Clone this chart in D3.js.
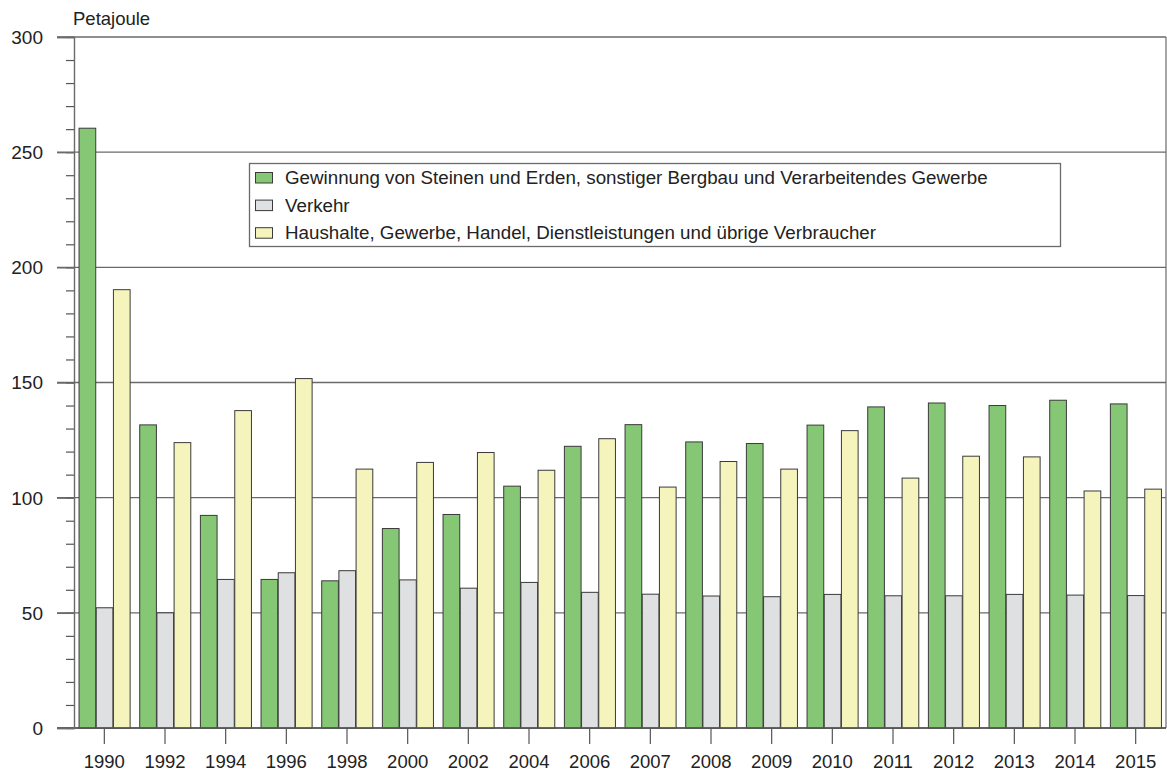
<!DOCTYPE html>
<html>
<head>
<meta charset="utf-8">
<script src="https://cdn.jsdelivr.net/npm/d3@7"></script>
<style>
  html, body { margin: 0; padding: 0; background: #fff; }
  svg { display: block; font-family: "Liberation Sans", Arial, Helvetica, sans-serif; }
</style>
</head>
<body>
<svg id="chart" width="1167" height="773"></svg>
<script>
// Endenergieverbrauch nach Sektoren, in Petajoule
const years = ["1990", "1992", "1994", "1996", "1998", "2000", "2002", "2004", "2006",
               "2007", "2008", "2009", "2010", "2011", "2012", "2013", "2014", "2015"];

const gewinnung = [260.4, 131.6, 92.3, 64.5, 63.9, 86.6, 92.7, 105.0, 122.3,
                   131.7, 124.2, 123.5, 131.5, 139.4, 141.1, 140.0, 142.3, 140.7];
const verkehr   = [52.2, 50.0, 64.5, 67.4, 68.3, 64.3, 60.7, 63.2, 58.9,
                   58.1, 57.3, 57.0, 58.0, 57.4, 57.4, 58.0, 57.7, 57.5];
const haushalte = [190.3, 123.9, 137.8, 151.7, 112.4, 115.3, 119.6, 111.9, 125.6,
                   104.6, 115.7, 112.4, 129.1, 108.5, 118.0, 117.7, 102.9, 103.7];

const seriesNames = [
  "Gewinnung von Steinen und Erden, sonstiger Bergbau und Verarbeitendes Gewerbe",
  "Verkehr",
  "Haushalte, Gewerbe, Handel, Dienstleistungen und übrige Verbraucher"
];
const seriesValues = [gewinnung, verkehr, haushalte];
const seriesColors = ["#86c775", "#dfe0e2", "#f6f4bd"];

const majorTicks = [0, 50, 100, 150, 200, 250, 300];
const minorTicks = d3.range(0, 301, 10);
const unitLabel = "Petajoule";

const svg = d3.select("#chart");
const plotLeft = 74, plotRight = 1166, plotTop = 37, plotBottom = 728;

const y = d3.scaleLinear().domain([0, 300]).range([plotBottom, plotTop]);
const x0 = d3.scaleBand().domain(years).range([plotLeft, plotRight])
  .paddingInner(0.15).paddingOuter(0.075);
const x1 = d3.scaleBand().domain(d3.range(seriesValues.length)).range([0, x0.bandwidth()]);

const axisColor = "#6a6a6a";
const textColor = "#222";

// horizontal grid lines
svg.append("g").selectAll("line").data(majorTicks).join("line")
  .attr("x1", 57).attr("x2", plotRight)
  .attr("y1", d => y(d)).attr("y2", d => y(d))
  .attr("stroke", axisColor).attr("stroke-width", 1.4);

// right frame line
svg.append("line")
  .attr("x1", plotRight).attr("x2", plotRight).attr("y1", y(300)).attr("y2", y(0))
  .attr("stroke", axisColor).attr("stroke-width", 1.2);

// bars
const rows = years.map((yr, i) => ({ yr, vals: seriesValues.map(s => s[i]) }));
const groups = svg.append("g").selectAll("g").data(rows).join("g")
  .attr("transform", d => `translate(${x0(d.yr)},0)`);
groups.selectAll("rect").data(d => d.vals.map((v, k) => ({ v, k }))).join("rect")
  .attr("x", d => x1(d.k) + 0.5)
  .attr("width", x1.bandwidth() - 0.5)
  .attr("y", d => y(d.v))
  .attr("height", d => y(0) - y(d.v))
  .attr("fill", d => seriesColors[d.k])
  .attr("stroke", "#3a3a3a").attr("stroke-width", 1);

// baseline
svg.append("line").attr("x1", 57).attr("x2", plotRight).attr("y1", y(0)).attr("y2", y(0))
  .attr("stroke", "#555").attr("stroke-width", 1.4);

// y axis: minor ticks, major ticks and labels
const yMinor = svg.append("g").attr("transform", `translate(${plotLeft},0)`)
  .call(d3.axisLeft(y).tickValues(minorTicks).tickSize(8).tickFormat(""));
yMinor.select(".domain").remove();
yMinor.selectAll(".tick line").attr("stroke", "#555").attr("stroke-width", 1.2);

const yMajor = svg.append("g").attr("transform", `translate(${plotLeft},0)`)
  .call(d3.axisLeft(y).tickValues(majorTicks).tickSize(17).tickPadding(14).tickFormat(d3.format("d")));
yMajor.select(".domain").attr("stroke", axisColor).attr("stroke-width", 1.4);
yMajor.selectAll(".tick line").attr("stroke", axisColor).attr("stroke-width", 1.4);
yMajor.selectAll(".tick text")
  .attr("fill", textColor).style("font-size", "19px").attr("dy", "0.34em");

// x axis ticks and labels
const xAxis = svg.append("g").attr("transform", `translate(0,${plotBottom})`)
  .call(d3.axisBottom(x0).tickSize(16));
xAxis.select(".domain").remove();
xAxis.selectAll(".tick line").attr("stroke", "#555").attr("stroke-width", 1.2);
xAxis.selectAll(".tick text")
  .attr("fill", textColor).style("font-size", "18.5px")
  .attr("y", 40).attr("dy", 0);

// unit label
svg.append("text").attr("x", 73).attr("y", 24.5)
  .attr("fill", textColor).style("font-size", "18.5px").text(unitLabel);

// legend
const legend = svg.append("g");
legend.append("rect")
  .attr("x", 249.5).attr("y", 163.5).attr("width", 811).attr("height", 83)
  .attr("fill", "#fff").attr("stroke", "#6a6a6a").attr("stroke-width", 1.3);
const items = legend.selectAll("g.item").data(seriesNames).join("g")
  .attr("class", "item")
  .attr("transform", (d, i) => `translate(0,${i * 27.6})`);
items.append("rect")
  .attr("x", 255.5).attr("y", 172.5).attr("width", 17).attr("height", 10.5)
  .attr("fill", (d, i) => seriesColors[i])
  .attr("stroke", "#3a3a3a").attr("stroke-width", 1);
items.append("text")
  .attr("x", 285).attr("y", 184)
  .attr("fill", textColor).style("font-size", "18.75px")
  .text(d => d);
</script>
</body>
</html>
